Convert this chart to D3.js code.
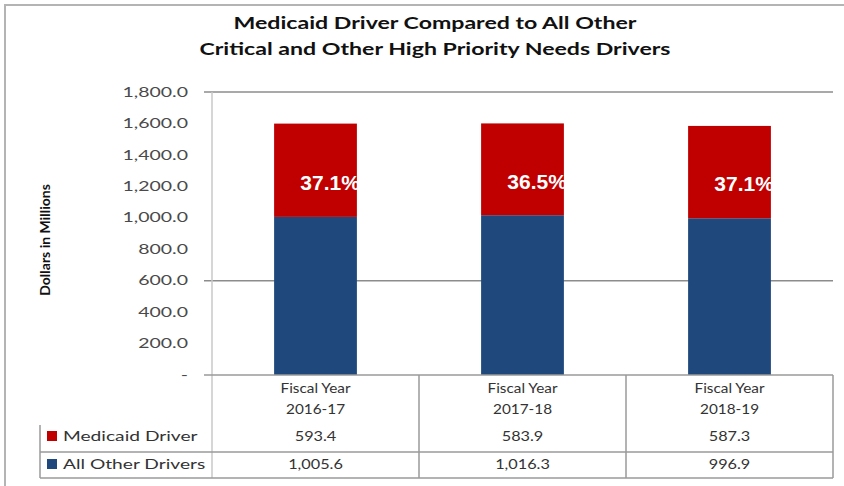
<!DOCTYPE html>
<html>
<head>
<meta charset="utf-8">
<script src="https://cdn.jsdelivr.net/npm/d3@7"></script>
<style>
  body { margin: 0; background: #fff; }
  svg { display: block; }
</style>
</head>
<body>
<div id="chart"></div>
<script>
// data
var fiscalYears = ['2016-17', '2017-18', '2018-19'];
var medicaid = [593.4, 583.9, 587.3];
var allOther = [1005.6, 1016.3, 996.9];
var yTicks = [0, 200, 400, 600, 800, 1000, 1200, 1400, 1600, 1800];
var gridValues = [600, 1800];
var seriesNames = ['Medicaid Driver', 'All Other Drivers'];

var width = 844, height = 486;
var RED = '#c00000', BLUE = '#1f497d';
var FONT = 'Lato, "Open Sans", sans-serif';

var svg = d3.select('#chart').append('svg')
    .attr('width', width)
    .attr('height', height);

// the reference picture is stretched sideways, so horizontal text gets a scaleX
function stext(parent, x, y, sx, txt) {
    return parent.append('text')
        .attr('transform', 'translate(' + x + ',' + y + ') scale(' + sx + ',1)')
        .text(txt);
}

// outer frame
svg.append('path')
    .attr('d', 'M5,' + height + ' V5 H' + width)
    .attr('fill', 'none')
    .attr('stroke', '#b4b4b4')
    .attr('stroke-width', 2);

// title
['Medicaid Driver Compared to All Other', 'Critical and Other High Priority Needs Drivers'].forEach(function (t, i) {
    stext(svg, 435, 29 + i * 26, 1.36, t)
        .attr('text-anchor', 'middle')
        .style('font-family', FONT).style('font-weight', 'bold').style('font-size', '17px')
        .style('fill', '#111');
});

var plot = {left: 212, right: 833, top: 92, bottom: 375};

var x = d3.scaleBand()
    .domain(fiscalYears)
    .range([plot.left, plot.right])
    .paddingInner(0)
    .paddingOuter(0);

var y = d3.scaleLinear()
    .domain([0, 1800])
    .range([plot.bottom, plot.top]);

var barW = x.bandwidth() * 0.4;

// gridlines (only the ones still visible in the reference)
svg.append('g').selectAll('line')
    .data(gridValues).enter().append('line')
    .attr('x1', plot.left - 8).attr('x2', plot.right)
    .attr('y1', function (d) { return y(d); })
    .attr('y2', function (d) { return y(d); })
    .attr('stroke', '#8c8c8c')
    .attr('stroke-width', 1.5);

// y axis labels
var yAxis = d3.axisLeft(y)
    .tickValues(yTicks)
    .tickSize(0)
    .tickPadding(24)
    .tickFormat(function (d) { return d === 0 ? '-' : d3.format(',.1f')(d); });

var gy = svg.append('g')
    .attr('transform', 'translate(' + plot.left + ',0)')
    .call(yAxis);
gy.select('.domain').remove();
gy.selectAll('text')
    .attr('x', -24 / 1.5)
    .attr('transform', 'scale(1.5,1)')
    .style('font-family', FONT).style('font-size', '13px').style('fill', '#4a4a4a');

// y axis title
svg.append('text')
    .attr('transform', 'translate(50,' + 240 + ') rotate(-90)')
    .attr('text-anchor', 'middle')
    .style('font-family', FONT).style('font-weight', 'bold').style('font-size', '14px')
    .style('fill', '#111')
    .text('Dollars in Millions');

// stacked bars
var bars = svg.append('g');
fiscalYears.forEach(function (fy, i) {
    var bx = x(fy) + (x.bandwidth() - barW) / 2;
    bars.append('rect')
        .attr('x', bx).attr('width', barW)
        .attr('y', y(allOther[i]))
        .attr('height', y(0) - y(allOther[i]))
        .attr('fill', BLUE);
    bars.append('rect')
        .attr('x', bx).attr('width', barW)
        .attr('y', y(allOther[i] + medicaid[i]))
        .attr('height', y(allOther[i]) - y(allOther[i] + medicaid[i]))
        .attr('fill', RED);

    var share = medicaid[i] / (medicaid[i] + allOther[i]);
    bars.append('text')
        .attr('x', bx + barW + 3)
        .attr('y', y(allOther[i] + medicaid[i] * 0.29))
        .attr('text-anchor', 'end')
        .style('font-family', '"Liberation Sans Narrow", "Arial Narrow", sans-serif')
        .style('font-weight', 'bold').style('font-size', '21px')
        .style('fill', '#fff')
        .text(d3.format('.1%')(share));
});

// axis line (light), running through the table
svg.append('line')
    .attr('x1', plot.left).attr('x2', plot.left)
    .attr('y1', plot.top).attr('y2', 478)
    .attr('stroke', '#c8c8c8').attr('stroke-width', 1.5);

// data table
var table = svg.append('g');
var lineColor = '#9a9a9a';
var rowSep = 452, tableBottom = 478, legendLeft = 40;

table.append('line')
    .attr('x1', plot.left - 8).attr('x2', plot.right)
    .attr('y1', plot.bottom).attr('y2', plot.bottom)
    .attr('stroke', lineColor).attr('stroke-width', 1.5);
table.append('line')
    .attr('x1', legendLeft).attr('x2', plot.right)
    .attr('y1', rowSep).attr('y2', rowSep)
    .attr('stroke', lineColor).attr('stroke-width', 1.5);
table.append('line')
    .attr('x1', legendLeft).attr('x2', plot.right)
    .attr('y1', tableBottom).attr('y2', tableBottom)
    .attr('stroke', lineColor).attr('stroke-width', 1.5);
table.append('line')
    .attr('x1', legendLeft).attr('x2', legendLeft)
    .attr('y1', 425).attr('y2', tableBottom)
    .attr('stroke', lineColor).attr('stroke-width', 1.5);

fiscalYears.forEach(function (fy) {
    table.append('line')
        .attr('x1', x(fy) + x.bandwidth()).attr('x2', x(fy) + x.bandwidth())
        .attr('y1', plot.bottom).attr('y2', tableBottom)
        .attr('stroke', lineColor).attr('stroke-width', 1.5);
});

var cellStyle = function (sel) {
    sel.attr('text-anchor', 'middle')
        .style('font-family', FONT).style('font-size', '13px').style('fill', '#333');
};

fiscalYears.forEach(function (fy, i) {
    var cx = x(fy) + x.bandwidth() / 2;
    stext(table, cx, 393, 1.18, 'Fiscal Year').call(cellStyle);
    stext(table, cx, 414, 1.18, fy).call(cellStyle);
    stext(table, cx, 441, 1.25, d3.format(',.1f')(medicaid[i])).call(cellStyle);
    stext(table, cx, 469, 1.25, d3.format(',.1f')(allOther[i])).call(cellStyle);
});

// legend keys inside the table
[[RED, 436], [BLUE, 464]].forEach(function (k, i) {
    table.append('rect')
        .attr('x', 47).attr('y', k[1] - 5)
        .attr('width', 10).attr('height', 10)
        .attr('fill', k[0]);
    stext(table, 63, k[1] + 5, 1.37, seriesNames[i])
        .style('font-family', FONT).style('font-size', '14px').style('fill', '#333');
});
</script>
</body>
</html>
